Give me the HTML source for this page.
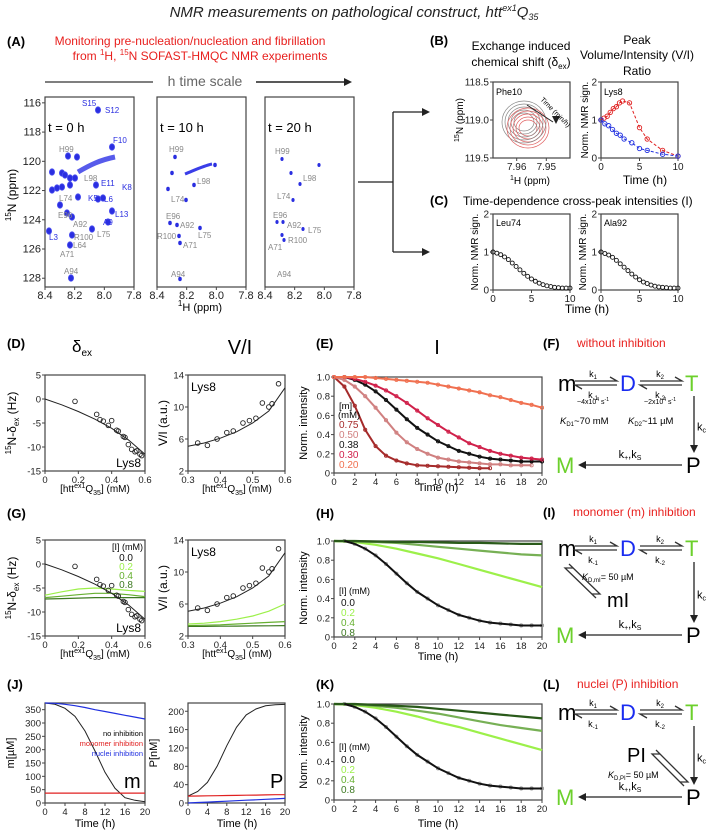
<!DOCTYPE html>
<html><head><meta charset="utf-8">
<style>
html,body{margin:0;padding:0;background:#fff;}
svg{display:block;font-family:"Liberation Sans",sans-serif;}
</style></head>
<body>
<svg id="fig" width="708" height="834" viewBox="0 0 708 834"></svg>
<script>
// ===== DATA =====
const bRedT=[0,0.4,0.8,1.2,1.6,2.0,2.4,2.8,3.7,5,6,8,10];
const bRedV=[1,1.05,1.1,1.2,1.3,1.35,1.45,1.5,1.45,0.8,0.5,0.2,0.05];
const bBlueT=[0,0.5,1,1.5,2,2.5,3,4,5,6,8,10];
const bBlueV=[1,0.9,0.85,0.75,0.65,0.6,0.5,0.4,0.25,0.2,0.1,0.05];
const cTime=[0,0.5,1,1.5,2,2.5,3,3.5,4,4.5,5,5.5,6,6.5,7,7.5,8,8.5,9,9.5,10];
const cLeu74=[1,0.97,0.93,0.87,0.8,0.71,0.62,0.53,0.44,0.36,0.29,0.23,0.18,0.14,0.11,0.09,0.07,0.06,0.05,0.05,0.05];
const cAla92=[1,0.96,0.92,0.86,0.78,0.69,0.6,0.51,0.42,0.34,0.27,0.21,0.17,0.13,0.1,0.08,0.07,0.06,0.05,0.05,0.05];
const dConc=[0.18,0.31,0.33,0.35,0.38,0.40,0.43,0.44,0.47,0.48,0.50,0.52,0.54,0.55,0.57,0.58];
const dShift=[-0.5,-3.2,-4.3,-4.6,-5.5,-4.5,-6.5,-6.7,-7.8,-8,-9.5,-10.5,-11,-10.8,-11.5,-11.8];
const dFitX=[0,0.1,0.2,0.3,0.4,0.5,0.6];
const dFitY=[0,-1.2,-2.6,-4.2,-6.1,-8.5,-11.5];
const viConc=[0.33,0.36,0.39,0.42,0.44,0.47,0.49,0.51,0.53,0.55,0.56,0.58];
const viVal=[5.5,5.2,6,6.8,7,8,8.3,8.6,10.5,10,10.4,12.9];
const viFitX=[0.3,0.35,0.4,0.45,0.5,0.55,0.6];
const viFitY=[5.1,5.5,6.1,6.9,8,9.5,12.4];
const eTime=[0,1,2,3,4,5,6,7,8,9,10,11,12,13,14,15,16,17,18,19,20];
const e075=[1,0.9,0.7,0.45,0.28,0.18,0.13,0.1,0.08,0.075,0.07,0.065,0.06,0.055,0.05,0.05];
const e050=[1,0.97,0.9,0.8,0.68,0.55,0.42,0.32,0.25,0.2,0.16,0.14,0.12,0.11,0.1,0.09,0.09,0.08,0.08,0.08];
const e038=[null,1,0.97,0.92,0.85,0.76,0.66,0.56,0.47,0.4,0.33,0.28,0.23,0.2,0.17,0.15,0.14,0.13,0.12,0.12,0.12];
const e030=[1,1,0.98,0.95,0.91,0.86,0.8,0.73,0.65,0.57,0.5,0.43,0.37,0.31,0.27,0.23,0.2,0.18,0.16,0.15,0.14];
const e020=[1,1,1,1,0.99,0.98,0.97,0.96,0.95,0.94,0.92,0.9,0.88,0.86,0.84,0.81,0.79,0.76,0.73,0.71,0.68];
const gX=[0,0.1,0.2,0.3,0.4,0.5,0.6];
const gShift02=[-6.5,-5.8,-5.2,-5,-5.2,-5.5,-5.7];
const gShift04=[-7,-6.7,-6.4,-6.1,-6.1,-6.4,-6.8];
const gShift08=[-7.3,-7.2,-7.1,-7.0,-7.0,-7.0,-7.0];
const gVIx=[0.3,0.35,0.4,0.45,0.5,0.55,0.6];
const gVI02=[3.5,3.6,3.8,4.1,4.5,5.1,6];
const gVI04=[3.3,3.35,3.4,3.5,3.6,3.7,3.8];
const gVI08=[3.2,3.2,3.22,3.24,3.26,3.28,3.3];
const hTime=[0,2,4,6,8,10,12,14,16,18,20];
const hI02=[1,0.99,0.96,0.92,0.87,0.82,0.76,0.7,0.64,0.58,0.52];
const hI04=[1,0.995,0.99,0.98,0.96,0.94,0.92,0.9,0.88,0.86,0.85];
const hI08=[1,1,0.995,0.99,0.99,0.985,0.98,0.98,0.975,0.97,0.97];
const kI02=[1,0.99,0.96,0.92,0.87,0.81,0.76,0.7,0.64,0.58,0.52];
const kI04=[1,0.995,0.98,0.96,0.93,0.9,0.86,0.82,0.78,0.75,0.72];
const kI08=[1,1,0.99,0.98,0.97,0.95,0.93,0.91,0.89,0.87,0.85];
const jTime=[0,2,4,6,8,10,12,14,16,18,20];
const jMono=[375,370,355,325,270,195,115,55,20,10,5];
const jMonoInh=[37,37,37,37,37,37,37,37,37,37,37];
const jNucInh=[375,374,370,365,358,350,343,336,329,322,315];
const jP=[15,25,45,80,125,165,192,205,212,214,215];
const jPmono=[15,15.3,15.6,16,16.3,16.6,17,17.3,17.6,18,18];
const jPnuc=[0,1,2,3,4,5,6,7,8,9,10];

// ===== HELPERS =====
const NS='http://www.w3.org/2000/svg';
const svg=document.getElementById('fig');
function mk(tag,attrs,parent){const e=document.createElementNS(NS,tag);for(const k in attrs)e.setAttribute(k,attrs[k]);(parent||svg).appendChild(e);return e;}
function T(x,y,s,size,name,extra){
  const e=mk('text',Object.assign({x:x,y:y,'font-size':size},extra||{}));
  e.innerHTML=s;
  
  
  return e;
}
function axes(c,name){
  const sx=v=>c.x0+(v-c.xmin)/(c.xmax-c.xmin)*(c.x1-c.x0);
  const sy=v=>c.y1-(v-c.ymin)/(c.ymax-c.ymin)*(c.y1-c.y0);
  const g=mk('g',{});
  
  
  const r=mk('rect',{x:c.x0,y:c.y0,width:c.x1-c.x0,height:c.y1-c.y0,fill:'none',stroke:'#444','stroke-width':1.2},g);
  
  
  const fs=c.fs||9.5;
  (c.xt||[]).forEach((v,i)=>{
    const x=sx(v);
    mk('line',{x1:x,x2:x,y1:c.y1,y2:c.y1+3,stroke:'#444'},g);
    const t=T(x,c.y1+12,(c.xl?c.xl[i]:v),fs,name+'-x-tick',{'text-anchor':'middle',fill:'#222'});
    g.appendChild(t);
  });
  (c.yt||[]).forEach((v,i)=>{
    const y=sy(v);
    mk('line',{x1:c.x0-3,x2:c.x0,y1:y,y2:y,stroke:'#444'},g);
    const t=T(c.x0-4,y+3.5,(c.yl?c.yl[i]:v),fs,name+'-y-tick',{'text-anchor':'end',fill:'#222'});
    g.appendChild(t);
  });
  return {sx,sy,c};
}
function line(ax,xs,ys,color,w,name,dash){
  let d='';let first=true;
  xs.forEach((x,i)=>{if(ys[i]==null)return;d+=(first?'M':'L')+ax.sx(x).toFixed(1)+','+ax.sy(ys[i]).toFixed(1);first=false;});
  const p=mk('path',{d:d,fill:'none',stroke:color,'stroke-width':w});
  if(dash)p.setAttribute('stroke-dasharray',dash);
  
  
  return p;
}
function dots(ax,xs,ys,color,r,name){
  xs.forEach((x,i)=>{if(ys[i]==null)return;
    const c=mk('circle',{cx:ax.sx(x),cy:ax.sy(ys[i]),r:r,fill:'none',stroke:color,'stroke-width':0.9});
    
    
  });
}
function arrowHead(x,y,dir,name){
  let pts;
  if(dir==='l')pts=`${x},${y} ${x+8},${y-4} ${x+8},${y+4}`;
  else if(dir==='r')pts=`${x},${y} ${x-8},${y-4} ${x-8},${y+4}`;
  else pts=`${x},${y} ${x-4},${y-8} ${x+4},${y-8}`;
  const p=mk('polygon',{points:pts,fill:'#222'});
  
  
}
function eqArrow(x1,x2,y,name){
  const g=mk('g',{stroke:'#333','stroke-width':1.3,fill:'none'});
  
  
  mk('path',{d:`M${x1},${y-2}L${x2},${y-2}L${x2-7},${y-6}`},g);
  mk('path',{d:`M${x2},${y+2}L${x1},${y+2}L${x1+7},${y+6}`},g);
}
function diagEq(xa,ya,xb,yb,name){
  const g=mk('g',{stroke:'#333','stroke-width':1.3,fill:'none'});
  
  
  mk('path',{d:`M${xa+2},${ya-2}L${xb+2},${yb-2}L${xb-6},${yb-2}`},g);
  mk('path',{d:`M${xb-2},${yb+2}L${xa-2},${ya+2}L${xa+6},${ya+2}`},g);
}

// ===== TITLE & PANEL A =====
T(354,17,'NMR measurements on pathological construct, htt<tspan font-size="9" dy="-6">ex1</tspan><tspan dy="6">Q</tspan><tspan font-size="9" dy="3">35</tspan>',15,'figure-title',{'text-anchor':'middle','font-style':'italic',fill:'#222'});
T(7,46,'(A)',13,'panel-a-label',{'font-weight':'bold'});
T(190,45,'Monitoring pre-nucleation/nucleation and fibrillation',12,'panel-a-subtitle',{'text-anchor':'middle',fill:'#e8201e'});
T(200,60,'from <tspan font-size="8" dy="-5">1</tspan><tspan dy="5">H, </tspan><tspan font-size="8" dy="-5">15</tspan><tspan dy="5">N  SOFAST-HMQC NMR experiments</tspan>',12,'panel-a-subtitle-2',{'text-anchor':'middle',fill:'#e8201e'});
T(205,86,'h time scale',14,'time-scale-label',{'text-anchor':'middle',fill:'#666'});
mk('line',{x1:45,x2:153,y1:82,y2:82,stroke:'#555','stroke-width':1.5});
mk('line',{x1:256,x2:348,y1:82,y2:82,stroke:'#222','stroke-width':1.5});
arrowHead(352,82,'r','time-scale-arrow');

const specX=[45,157,265];
const specT=['t = 0 h','t = 10 h','t = 20 h'];
const specs=specX.map((x0,i)=>axes({x0:x0,x1:x0+89,y0:97,y1:287,xmin:8.4,xmax:7.8,ymin:128.6,ymax:115.6,
  xt:[8.4,8.2,8.0,7.8],xl:['8.4','8.2','8.0','7.8'],yt:i===0?[116,118,120,122,124,126,128]:[],fs:11},'spectrum-'+i));
specX.forEach((x0,i)=>T(x0+3,132,specT[i],13,'spectrum-time-label'));
T(200,311,'<tspan font-size="8" dy="-5">1</tspan><tspan dy="5">H (ppm)</tspan>',11,'spectra-x-title',{'text-anchor':'middle'});
T(16,195,'<tspan font-size="8" dy="-5">15</tspan><tspan dy="5">N (ppm)</tspan>',12,'spectra-y-title',{'text-anchor':'middle',transform:'rotate(-90 16 195)'});

const pk0=[[68,156],[52,172],[62,173],[65,175],[70,178],[75,178],[52,190],[57,188],[62,187],[70,185],[78,197],[60,205],[67,213],[72,217],[92,229],[72,235],[70,245],[71,278],[49,231],[98,199],[103,198],[112,211],[108,222],[96,185],[77,157],[112,147],[98,110]];
pk0.forEach(p=>{const e=mk('ellipse',{cx:p[0],cy:p[1],rx:2.6,ry:3.2,fill:'#2a2ee0',stroke:'#4a4ef0','stroke-width':0.8});});
mk('path',{d:'M78,172 C90,165 100,160 115,157',stroke:'#3a3ee8','stroke-width':5,fill:'none',opacity:0.85});
const pk1=[[175,157],[172,173],[194,185],[168,189],[186,200],[170,223],[177,225],[200,228],[179,236],[180,243],[180,279],[215,165]];
pk1.forEach(p=>{const e=mk('ellipse',{cx:p[0],cy:p[1],rx:1.8,ry:2.2,fill:'#2a2ee0'});});
mk('path',{d:'M185,174 C195,170 203,166 212,164',stroke:'#3a3ee8','stroke-width':3,fill:'none'});
const pk2=[[282,159],[291,173],[300,184],[293,200],[277,222],[283,222],[303,229],[282,235],[284,240],[319,165]];
pk2.forEach(p=>{const e=mk('ellipse',{cx:p[0],cy:p[1],rx:1.6,ry:2,fill:'#2a2ee0'});});
const lb0=[['S15',82,106,'b'],['S12',105,113,'b'],['F10',113,143,'b'],['H99',59,152,'g'],['L98',84,181,'g'],['E11',101,186,'b'],['K8',122,190,'b'],['L74',59,201,'g'],['K5',88,201,'b'],['L6',104,202,'b'],['L13',115,217,'b'],['E96',58,218,'g'],['A92',73,227,'g'],['A9',103,225,'b'],['L75',97,237,'g'],['L3',49,240,'b'],['R100',74,240,'g'],['L64',73,248,'g'],['A71',60,257,'g'],['A94',64,274,'g'],
['H99',169,152,'g'],['L98',197,184,'g'],['L74',171,202,'g'],['E96',166,219,'g'],['A92',180,228,'g'],['R100',157,239,'g'],['L75',198,238,'g'],['A71',183,248,'g'],['A94',171,277,'g'],
['H99',275,154,'g'],['L98',303,181,'g'],['L74',277,199,'g'],['E96',273,218,'g'],['A92',287,228,'g'],['L75',308,233,'g'],['R100',288,243,'g'],['A71',268,250,'g'],['A94',277,277,'g']];
lb0.forEach(l=>T(l[1],l[2],l[0],8,'peak-label',{fill:l[3]==='b'?'#2a2ee0':'#888'}));

mk('path',{d:'M358,182 L393,182 M393,112 L393,252 M393,112 L424,112 M393,252 L424,252',stroke:'#222','stroke-width':1.3,fill:'none'});
arrowHead(430,112,'r','connector-arrow-b');
arrowHead(430,252,'r','connector-arrow-c');

// ===== PANEL B =====
T(430,45,'(B)',13,'panel-b-label',{'font-weight':'bold'});
T(521,50,'Exchange induced',12,'b-left-title',{'text-anchor':'middle'});
T(521,66,'chemical shift (δ<tspan font-size="8" dy="3">ex</tspan><tspan dy="-3">)</tspan>',12,'b-left-title-2',{'text-anchor':'middle'});
T(637,44,'Peak',12,'b-right-title',{'text-anchor':'middle'});
T(637,59,'Volume/Intensity (V/I)',12,'b-right-title-2',{'text-anchor':'middle'});
T(637,75,'Ratio',12,'b-right-title-3',{'text-anchor':'middle'});
const bL=axes({x0:493,x1:570,y0:82,y1:158,xmin:7.968,xmax:7.942,ymin:119.5,ymax:118.5,xt:[7.96,7.95],xl:['7.96','7.95'],yt:[118.5,119.0,119.5],yl:['118.5','119.0','119.5'],fs:10},'b-contour-plot');
T(496,95,'Phe10',9,'phe10-label');
[[10,9],[13,12],[16,15],[19,18],[22,21]].forEach((r,i)=>{mk('ellipse',{cx:524,cy:122,rx:r[0],ry:r[1],fill:'none',stroke:'#888','stroke-width':0.7});mk('ellipse',{cx:528,cy:128,rx:r[0]-1,ry:r[1]-1,fill:'none',stroke:'#e06060','stroke-width':0.7});});
mk('line',{x1:527,x2:553,y1:105,y2:122,stroke:'#222'});arrowHead(556,124,'d','time-arrow');
T(540,100,'Time (min/h)',7,'time-arrow-label',{transform:'rotate(45 540 100)'});
T(530,184,'<tspan font-size="7" dy="-4">1</tspan><tspan dy="4">H (ppm)</tspan>',10,'b-x-title',{'text-anchor':'middle'});
T(463,120,'<tspan font-size="7" dy="-4">15</tspan><tspan dy="4">N (ppm)</tspan>',10,'b-y-title',{'text-anchor':'middle',transform:'rotate(-90 463 120)'});
const bR=axes({x0:601,x1:678,y0:82,y1:158,xmin:0,xmax:10,ymin:0,ymax:2,xt:[0,5,10],yt:[0,1,2],fs:10},'b-vi-plot');
T(604,95,'Lys8',9,'lys8-label');
line(bR,bRedT,bRedV,'#e02020',1,'vi-red-fit','3,2');dots(bR,bRedT,bRedV,'#e02020',2.2,'vi-red-point');
line(bR,bBlueT,bBlueV,'#2030e0',1,'vi-blue-fit','3,2');dots(bR,bBlueT,bBlueV,'#2030e0',2.2,'vi-blue-point');
T(588,120,'Norm. NMR sign.',10,'b-right-y-title',{'text-anchor':'middle',transform:'rotate(-90 588 120)'});
T(645,184,'Time (h)',12,'b-right-x-title',{'text-anchor':'middle'});

// ===== PANEL C =====
T(430,205,'(C)',13,'panel-c-label',{'font-weight':'bold'});
T(463,205,'Time-dependence cross-peak intensities (I)',12,'panel-c-title');
const c1=axes({x0:493,x1:570,y0:214,y1:290,xmin:0,xmax:10,ymin:0,ymax:2,xt:[0,5,10],yt:[0,1,2],fs:10},'c-leu74-plot');
const c2=axes({x0:601,x1:678,y0:214,y1:290,xmin:0,xmax:10,ymin:0,ymax:2,xt:[0,5,10],yt:[0,1,2],fs:10},'c-ala92-plot');
T(496,226,'Leu74',9,'leu74-label');T(604,226,'Ala92',9,'ala92-label');
dots(c1,cTime,cLeu74,'#111',2,'leu74-point');dots(c2,cTime,cAla92,'#111',2,'ala92-point');
T(478,252,'Norm. NMR sign.',10,'c-left-y-title',{'text-anchor':'middle',transform:'rotate(-90 478 252)'});
T(586,252,'Norm. NMR sign.',10,'c-right-y-title',{'text-anchor':'middle',transform:'rotate(-90 586 252)'});
T(587,313,'Time (h)',12,'c-x-title',{'text-anchor':'middle'});

// ===== ROW D/E/F =====
T(7,348,'(D)',13,'panel-d-label',{'font-weight':'bold'});
T(82,352,'δ<tspan font-size="10" dy="4">ex</tspan>',17,'delta-ex-title',{'text-anchor':'middle'});
T(240,354,'V/I',20,'vi-title',{'text-anchor':'middle'});
T(316,348,'(E)',13,'panel-e-label',{'font-weight':'bold'});
T(437,354,'I',20,'i-title',{'text-anchor':'middle'});
T(543,348,'(F)',13,'panel-f-label',{'font-weight':'bold'});
T(577,347,'without inhibition',12,'f-title',{fill:'#e8201e'});

function shiftAxes(y0,name){return axes({x0:45,x1:145,y0:y0,y1:y0+96,xmin:0,xmax:0.6,ymin:-15,ymax:5,xt:[0,0.2,0.4,0.6],yt:[5,0,-5,-10,-15],fs:9.5},name);}
function viAxes(y0,name){return axes({x0:188,x1:285,y0:y0,y1:y0+96,xmin:0.3,xmax:0.6,ymin:2,ymax:14,xt:[0.3,0.4,0.5,0.6],xl:['0.3','0.4','0.5','0.6'],yt:[2,6,10,14],fs:9.5},name);}
function intAxes(y0,name){return axes({x0:334,x1:542,y0:y0,y1:y0+96,xmin:0,xmax:20,ymin:0,ymax:1,xt:[0,2,4,6,8,10,12,14,16,18,20],yt:[0,0.2,0.4,0.6,0.8,1.0],yl:['0','0.2','0.4','0.6','0.8','1.0'],fs:9.5},name);}
function rowTitles(y0){
  T(95,y0+117,'[htt<tspan font-size="7" dy="-4">ex1</tspan><tspan dy="4">Q</tspan><tspan font-size="7" dy="3">35</tspan><tspan dy="-3">] (mM)</tspan>',10,'conc-x-title',{'text-anchor':'middle'});
  T(237,y0+117,'[htt<tspan font-size="7" dy="-4">ex1</tspan><tspan dy="4">Q</tspan><tspan font-size="7" dy="3">35</tspan><tspan dy="-3">] (mM)</tspan>',10,'conc-x-title',{'text-anchor':'middle'});
  T(16,y0+48,'<tspan font-size="8" dy="-5">15</tspan><tspan dy="5">N-δ</tspan><tspan font-size="8" dy="3">ex</tspan><tspan dy="-3"> (Hz)</tspan>',12,'shift-y-title',{'text-anchor':'middle',transform:`rotate(-90 16 ${y0+48})`});
  T(167,y0+48,'V/I (a.u.)',12,'vi-y-title',{'text-anchor':'middle',transform:`rotate(-90 167 ${y0+48})`});
  T(307,y0+48,'Norm. intensity',11,'int-y-title',{'text-anchor':'middle',transform:`rotate(-90 307 ${y0+48})`});
}
const D1=shiftAxes(375,'d-shift-plot');
line(D1,dFitX,dFitY,'#222',1,'d-shift-fit');dots(D1,dConc,dShift,'#222',2.3,'d-shift-point');
T(141,467,'Lys8',12,'lys8-d-label',{'text-anchor':'end'});
const D2=viAxes(375,'d-vi-plot');
line(D2,viFitX,viFitY,'#222',1,'d-vi-fit');dots(D2,viConc,viVal,'#222',2.3,'d-vi-point');
T(191,391,'Lys8',12,'lys8-vi-label');
const E=intAxes(377,'e-intensity-plot');
const eSeries=[[e075,'#a52a2a','0.75'],[e050,'#d08080','0.50'],[e038,'#111','0.38'],[e030,'#d0204a','0.30'],[e020,'#f07050','0.20']];
eSeries.forEach((s,i)=>{dots(E,eTime,s[0],s[1],1.6,'e-point-'+s[2]);line(E,eTime,s[0],s[1],2,'e-fit-'+s[2]);
  T(339,428+i*10,s[2],10,'e-legend-entry',{fill:s[1]});});
T(339,409,'[m]',9.5,'e-legend-title');T(338,418,'(mM)',9.5,'e-legend-unit');
T(438,491,'Time (h)',11,'e-x-title',{'text-anchor':'middle'});
rowTitles(375);

function scheme(yo,name){
  T(558,yo+8,'m',22,name+'-m');
  eqArrow(575,617,yo,name+'-eq1');
  T(593,yo-6,'k<tspan font-size="6" dy="2">1</tspan>',9,name+'-k1',{'text-anchor':'middle'});
  T(593,yo+15,'k<tspan font-size="6" dy="2">-1</tspan>',9,name+'-km1',{'text-anchor':'middle'});
  T(620,yo+8,'D',22,name+'-d',{fill:'#1a2cf0'});
  eqArrow(640,682,yo,name+'-eq2');
  T(660,yo-6,'k<tspan font-size="6" dy="2">2</tspan>',9,name+'-k2',{'text-anchor':'middle'});
  T(660,yo+15,'k<tspan font-size="6" dy="2">-2</tspan>',9,name+'-km2',{'text-anchor':'middle'});
  T(685,yo+8,'T',22,name+'-t',{fill:'#6cd02c'});
}
function bottom(yv,yp,name){
  mk('line',{x1:694,x2:694,y1:yv,y2:yp-18,stroke:'#222','stroke-width':1.3});
  arrowHead(694,yp-12,'d',name+'-kc-arrow');
  T(697,(yv+yp)/2,'k<tspan font-size="7" dy="2">c</tspan>',11,name+'-kc');
  T(686,yp+8,'P',22,name+'-p');
  T(556,yp+8,'M',22,name+'-mfinal',{fill:'#6cd02c'});
  mk('line',{x1:682,x2:585,y1:yp,y2:yp,stroke:'#222','stroke-width':1.3});
  arrowHead(578,yp,'l',name+'-elong-arrow');
  T(630,yp-7,'k<tspan font-size="7" dy="2">+</tspan><tspan dy="-2">,k</tspan><tspan font-size="7" dy="2">S</tspan>',11,name+'-kplus',{'text-anchor':'middle'});
}
scheme(383,'f-scheme');
T(593,404,'~4x10<tspan font-size="5" dy="-3">4</tspan><tspan dy="3"> s</tspan><tspan font-size="5" dy="-3">-1</tspan>',7,'f-rate1',{'text-anchor':'middle'});
T(660,404,'~2x10<tspan font-size="5" dy="-3">4</tspan><tspan dy="3"> s</tspan><tspan font-size="5" dy="-3">-1</tspan>',7,'f-rate2',{'text-anchor':'middle'});
T(560,424,'<tspan font-style="italic">K</tspan><tspan font-size="6" dy="2">D1</tspan><tspan dy="-2">~70 mM</tspan>',9.5,'f-kd1');
T(628,424,'<tspan font-style="italic">K</tspan><tspan font-size="6" dy="2">D2</tspan><tspan dy="-2">~11 µM</tspan>',9.5,'f-kd2');
bottom(396,465,'f-scheme');

// ===== ROW G/H/I =====
T(7,518,'(G)',13,'panel-g-label',{'font-weight':'bold'});
T(316,518,'(H)',13,'panel-h-label',{'font-weight':'bold'});
T(543,517,'(I)',13,'panel-i-label',{'font-weight':'bold'});
T(573,516,'monomer (m) inhibition',12,'i-title',{fill:'#e8201e'});
const G1=shiftAxes(540,'g-shift-plot');
const gC=['#9cf04a','#66b030','#3e7a22'];
line(G1,gX,gShift02,gC[0],1.2,'g-shift-0.2');line(G1,gX,gShift04,gC[1],1.2,'g-shift-0.4');line(G1,gX,gShift08,gC[2],1.2,'g-shift-0.8');
line(G1,dFitX,dFitY,'#222',1,'g-shift-fit');dots(G1,dConc,dShift,'#222',2.3,'g-shift-point');
T(141,632,'Lys8',12,'lys8-g-label',{'text-anchor':'end'});
T(143,550,'[I] (mM)',9,'g-legend-title',{'text-anchor':'end'});
['0.0','0.2','0.4','0.8'].forEach((v,i)=>T(133,561+i*9,v,10,'g-legend-entry',{'text-anchor':'end',fill:['#111',gC[0],gC[1],gC[2]][i]}));
const G2=viAxes(540,'g-vi-plot');
line(G2,gVIx,gVI02,gC[0],1.2,'g-vi-0.2');line(G2,gVIx,gVI04,gC[1],1.2,'g-vi-0.4');line(G2,gVIx,gVI08,gC[2],1.2,'g-vi-0.8');
line(G2,viFitX,viFitY,'#222',1,'g-vi-fit');dots(G2,viConc,viVal,'#222',2.3,'g-vi-point');
T(191,556,'Lys8',12,'lys8-g-vi-label');
rowTitles(540);
const H=intAxes(541,'h-intensity-plot');
dots(H,eTime,e038,'#999',1.6,'h-point');
line(H,hTime,hI02,gC[0],2.2,'h-fit-0.2');line(H,hTime,hI04,'#77b055',2.2,'h-fit-0.4');line(H,hTime,hI08,'#2a5a1a',2.2,'h-fit-0.8');
line(H,eTime,e038,'#111',2,'h-fit-0.0');
T(339,594,'[I] (mM)',9,'h-legend-title');
['0.0','0.2','0.4','0.8'].forEach((v,i)=>T(341,606+i*10,v,10,'h-legend-entry',{fill:['#111',gC[0],gC[1],gC[2]][i]}));
T(438,660,'Time (h)',11,'h-x-title',{'text-anchor':'middle'});
scheme(548,'i-scheme');
diagEq(567,566,598,596,'i-mi-eq');
T(607,607,'mI',20,'i-mi');
T(582,580,'<tspan font-style="italic">K</tspan><tspan font-size="6" dy="2">D,mI</tspan><tspan dy="-2">= 50 µM</tspan>',9,'i-kd');
bottom(562,635,'i-scheme');

// ===== ROW J/K/L =====
T(7,689,'(J)',13,'panel-j-label',{'font-weight':'bold'});
T(316,689,'(K)',13,'panel-k-label',{'font-weight':'bold'});
T(543,689,'(L)',13,'panel-l-label',{'font-weight':'bold'});
T(577,688,'nuclei (P) inhibition',12,'l-title',{fill:'#e8201e'});
const J1=axes({x0:45,x1:145,y0:703,y1:803,xmin:0,xmax:20,ymin:0,ymax:375,xt:[0,4,8,12,16,20],yt:[0,50,100,150,200,250,300,350],fs:9.5},'j-monomer-plot');
line(J1,jTime,jMono,'#222',1,'j-m-no-inh');line(J1,jTime,jMonoInh,'#e02020',1.2,'j-m-mono-inh');line(J1,jTime,jNucInh,'#2030e0',1.2,'j-m-nuc-inh');
T(143,736,'no inhibition',7.5,'j-legend-no',{'text-anchor':'end'});
T(143,746,'monomer inhibition',7.5,'j-legend-mono',{'text-anchor':'end',fill:'#e02020'});
T(143,756,'nuclei inhibition',7.5,'j-legend-nuc',{'text-anchor':'end',fill:'#2030e0'});
T(124,788,'m',20,'j-m-label');
T(14,753,'m[µM]',11,'j-y-title',{'text-anchor':'middle',transform:'rotate(-90 14 753)'});
const J2=axes({x0:188,x1:285,y0:703,y1:803,xmin:0,xmax:20,ymin:0,ymax:218,xt:[0,4,8,12,16,20],yt:[0,40,80,120,160,200],fs:9.5},'j-nuclei-plot');
line(J2,jTime,jP,'#222',1,'j-p-no-inh');line(J2,jTime,jPmono,'#e02020',1.2,'j-p-mono-inh');line(J2,jTime,jPnuc,'#2030e0',1.2,'j-p-nuc-inh');
T(270,788,'P',20,'j-p-label');
T(157,753,'P[nM]',11,'j-p-y-title',{'text-anchor':'middle',transform:'rotate(-90 157 753)'});
T(95,827,'Time (h)',11,'j-x-title',{'text-anchor':'middle'});
T(237,827,'Time (h)',11,'j-p-x-title',{'text-anchor':'middle'});
const K=intAxes(704,'k-intensity-plot');
dots(K,eTime,e038,'#999',1.6,'k-point');
line(K,hTime,kI02,gC[0],2.2,'k-fit-0.2');line(K,hTime,kI04,'#77b055',2.2,'k-fit-0.4');line(K,hTime,kI08,'#2a5a1a',2.2,'k-fit-0.8');
line(K,eTime,e038,'#111',2,'k-fit-0.0');
T(339,750,'[I] (mM)',9,'k-legend-title');
['0.0','0.2','0.4','0.8'].forEach((v,i)=>T(341,763+i*10,v,10,'k-legend-entry',{fill:['#111',gC[0],gC[1],gC[2]][i]}));
T(307,752,'Norm. intensity',11,'k-y-title',{'text-anchor':'middle',transform:'rotate(-90 307 752)'});
T(438,827,'Time (h)',11,'k-x-title',{'text-anchor':'middle'});
scheme(712,'l-scheme');
T(627,762,'PI',20,'l-pi');
diagEq(654,752,686,784,'l-pi-eq');
T(608,778,'<tspan font-style="italic">K</tspan><tspan font-size="6" dy="2">D,PI</tspan><tspan dy="-2">= 50 µM</tspan>',9,'l-kd');
bottom(726,797,'l-scheme');
</script>
</body></html>
